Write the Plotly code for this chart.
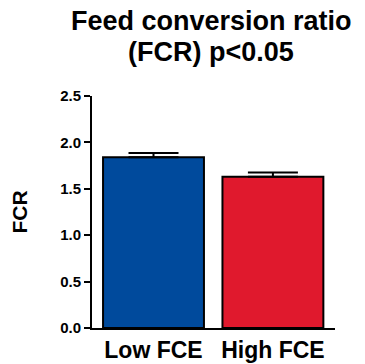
import plotly.graph_objects as go

categories = ["Low FCE", "High FCE"]
fcr_values = [1.84, 1.63]
fcr_errors = [0.045, 0.045]
bar_colors = ["#004A9C", "#E0192D"]
y_tick_vals = [0.0, 0.5, 1.0, 1.5, 2.0, 2.5]
y_tick_text = ["0.0", "0.5", "1.0", "1.5", "2.0", "2.5"]
title_lines = ["Feed conversion ratio", "(FCR) p<0.05"]

FONT = "Arial, 'Liberation Sans', Helvetica, sans-serif"
OFF = 8  # page body margin

fig = go.Figure()
fig.add_trace(go.Bar(
    x=categories,
    y=fcr_values,
    width=0.845,
    marker=dict(color=bar_colors, line=dict(color="black", width=2)),
    error_y=dict(type="data", array=fcr_errors, symmetric=False,
                 arrayminus=[0, 0], color="black", thickness=2, width=25),
))

PLOT_TOP, PLOT_BOTTOM = 96, 328
def paper_y(px):
    return (PLOT_BOTTOM - px) / (PLOT_BOTTOM - PLOT_TOP)

for line, ypx in zip(title_lines, [21, 52]):
    fig.add_annotation(
        text="<b>%s</b>" % line, xref="paper", yref="paper",
        x=0.49, y=paper_y(ypx), xanchor="center", yanchor="middle",
        showarrow=False,
        font=dict(family=FONT, size=27, color="black"),
    )

fig.update_layout(
    width=365 - OFF, height=364 - OFF,
    margin=dict(l=92 - OFF, r=30, t=96 - OFF, b=36, autoexpand=False),
    paper_bgcolor="white", plot_bgcolor="white",
    showlegend=False,
    xaxis=dict(
        range=[-0.515, 1.52], automargin=False,
        showline=True, linecolor="black", linewidth=2,
        ticks="", showgrid=False, zeroline=False,
        tickfont=dict(family=FONT, size=23, color="black"),
        tickprefix="<b>", ticksuffix="</b>",
    ),
    yaxis=dict(
        range=[0, 2.5], automargin=False,
        tickvals=y_tick_vals, ticktext=["<b>%s</b>" % t for t in y_tick_text],
        showline=True, linecolor="black", linewidth=2,
        ticks="outside", ticklen=6, tickwidth=2, tickcolor="black",
        showgrid=False, zeroline=False,
        tickfont=dict(family=FONT, size=15, color="black"),
        title=dict(text="<b>FCR</b>", standoff=27,
                   font=dict(family=FONT, size=21, color="black")),
    ),
)

fig.write_html("out.html")
